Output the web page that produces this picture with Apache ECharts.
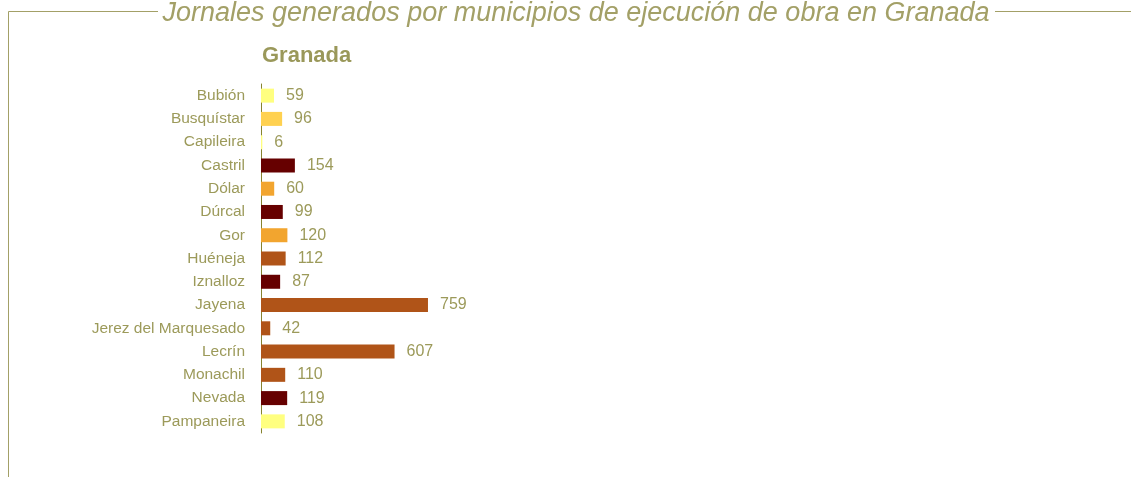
<!DOCTYPE html>
<html>
<head>
<meta charset="utf-8">
<script src="https://cdn.jsdelivr.net/npm/echarts@6/dist/echarts.min.js"></script>
<style>
  html, body { margin: 0; padding: 0; background: #fff; }
  #main { width: 1131px; height: 477px; }
</style>
</head>
<body>
<div id="main"></div>
<script>
// datos
var municipios = ['Bubión', 'Busquístar', 'Capileira', 'Castril', 'Dólar', 'Dúrcal', 'Gor', 'Huéneja',
  'Iznalloz', 'Jayena', 'Jerez del Marquesado', 'Lecrín', 'Monachil', 'Nevada', 'Pampaneira']
var jornales = [59, 96, 6, 154, 60, 99, 120, 112, 87, 759, 42, 607, 110, 119, 108]
var colores = ['#ffff80', '#ffd150', '#ffff80', '#660000', '#f2a52f', '#660000', '#f2a52f', '#b05418',
  '#660000', '#b05418', '#b05418', '#b05418', '#b05418', '#660000', '#ffff80']

var txt = '#9c9a5a'
var fuente = '"Liberation Sans", Arial, sans-serif'

var myChart = echarts.init(document.getElementById('main'))

var option = {
  animation: false,
  grid: {
    left: 261,
    top: 84,
    width: 220,
    height: 349
  },
  xAxis: {
    type: 'value',
    min: 0,
    max: 1000,
    show: false
  },
  yAxis: {
    type: 'category',
    inverse: true,
    data: municipios,
    axisLine: { show: true, lineStyle: { color: '#86832f', width: 1 } },
    axisTick: { show: false },
    axisLabel: {
      interval: 0,
      color: txt,
      fontFamily: fuente,
      fontSize: 15.5,
      margin: 16
    }
  },
  series: [
    {
      type: 'bar',
      barWidth: 14,
      data: jornales.map(function (v, i) {
        return { value: v, itemStyle: { color: colores[i] } }
      }),
      label: {
        show: true,
        position: 'right',
        distance: 12,
        color: txt,
        fontFamily: fuente,
        fontSize: 16
      }
    }
  ],
  graphic: [
    // marco
    { type: 'line', shape: { x1: 8.5, y1: 11.5, x2: 158, y2: 11.5 }, style: { stroke: '#a3a067', lineWidth: 1 } },
    { type: 'line', shape: { x1: 8.5, y1: 11.5, x2: 8.5, y2: 477 }, style: { stroke: '#a3a067', lineWidth: 1 } },
    { type: 'line', shape: { x1: 995, y1: 11.5, x2: 1131, y2: 11.5 }, style: { stroke: '#a3a067', lineWidth: 1 } },
    {
      type: 'text',
      style: {
        text: 'Jornales generados por municipios de ejecución de obra en Granada',
        x: 576,
        y: 13,
        textAlign: 'center',
        textVerticalAlign: 'middle',
        fill: '#a3a067',
        font: 'italic 27px ' + fuente
      }
    },
    {
      type: 'text',
      style: {
        text: 'Granada',
        x: 262,
        y: 56,
        textAlign: 'left',
        textVerticalAlign: 'middle',
        fill: '#9a985a',
        font: 'bold 22px ' + fuente
      }
    }
  ]
}

myChart.setOption(option)
</script>
</body>
</html>
